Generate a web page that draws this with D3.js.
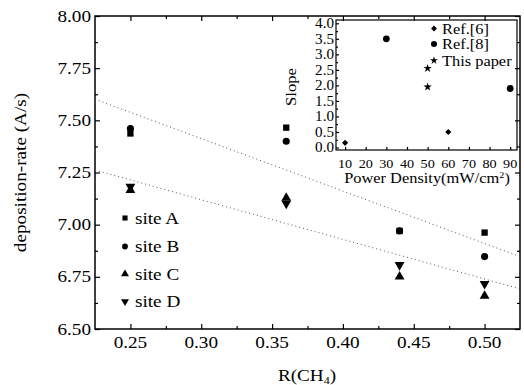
<!DOCTYPE html>
<html><head><meta charset="utf-8">
<script src="https://cdn.jsdelivr.net/npm/d3@7"></script>
<style>body{margin:0;background:#fff}text{font-family:"Liberation Serif","Times New Roman",serif;fill:#000}</style>
</head><body><svg id="c" width="524" height="385"></svg>
<script>
// ---- main chart data ----
const rValues = [0.25, 0.36, 0.44, 0.50];
const siteA = [7.437, 7.465, 6.97, 6.962];
const siteB = [7.461, 7.40, 6.97, 6.847];
const siteC = [7.165, 7.128, 6.751, 6.658];
const siteD = [7.182, 7.101, 6.807, 6.716];
const fitUpper = [[0.225, 7.601], [0.525, 6.847]];
const fitLower = [[0.225, 7.262], [0.525, 6.692]];
const xTicks = [0.25, 0.30, 0.35, 0.40, 0.45, 0.50];
const yTicks = [6.50, 6.75, 7.00, 7.25, 7.50, 7.75, 8.00];
const legendNames = ["site A", "site B", "site C", "site D"];
// ---- inset data ----
const ref6X = [10, 60], ref6Y = [0.15, 0.5];
const ref8X = [30, 90], ref8Y = [3.5, 1.9];
const thisX = [50, 50], thisY = [2.55, 1.95];
const insetXTicks = [10, 20, 30, 40, 50, 60, 70, 80, 90];
const insetYTicks = [0.0, 0.5, 1.0, 1.5, 2.0, 2.5, 3.0, 3.5, 4.0];
const insetLegend = ["Ref.[6]", "Ref.[8]", "This paper"];

const svg = d3.select("#c");
function txt(g, x, y, s, size, anchor, rot, sx) {
  const t = g.append("text").attr("font-size", size).attr("text-anchor", anchor || "start")
    .attr("transform", `translate(${x},${y})` + (rot ? ` rotate(${rot})` : "") + ` scale(${sx || 1.2},1)`);
  t.text(s);
  return t;
}

// main scales
const L = 95, R = 520, T = 16, B = 329;
const x = d3.scaleLinear([0.225, 0.525], [L, R]);
const y = d3.scaleLinear([6.5, 8.0], [B, T]);

const axisStyle = g => { g.select(".domain").remove(); g.selectAll("line").attr("stroke", "#000").attr("stroke-width", 1.2); g.selectAll("text").remove(); };
const xMin = [0.275, 0.325, 0.375, 0.425, 0.475];
const yMin = [6.625, 6.875, 7.125, 7.375, 7.625, 7.875];

svg.append("g").attr("transform", `translate(0,${B})`).call(d3.axisBottom(x).tickValues(xTicks).tickSize(-5)).call(axisStyle);
svg.append("g").attr("transform", `translate(0,${B})`).call(d3.axisBottom(x).tickValues(xMin).tickSize(-3)).call(axisStyle);
svg.append("g").attr("transform", `translate(0,${T})`).call(d3.axisTop(x).tickValues(xTicks).tickSize(-5)).call(axisStyle);
svg.append("g").attr("transform", `translate(0,${T})`).call(d3.axisTop(x).tickValues(xMin).tickSize(-3)).call(axisStyle);
svg.append("g").attr("transform", `translate(${L},0)`).call(d3.axisLeft(y).tickValues(yTicks).tickSize(-5)).call(axisStyle);
svg.append("g").attr("transform", `translate(${L},0)`).call(d3.axisLeft(y).tickValues(yMin).tickSize(-3)).call(axisStyle);
svg.append("g").attr("transform", `translate(${R},0)`).call(d3.axisRight(y).tickValues(yTicks).tickSize(-5)).call(axisStyle);
svg.append("g").attr("transform", `translate(${R},0)`).call(d3.axisRight(y).tickValues(yMin).tickSize(-3)).call(axisStyle);
svg.append("rect").attr("x", L).attr("y", T).attr("width", R - L).attr("height", B - T)
  .attr("fill", "none").attr("stroke", "#000").attr("stroke-width", 1.5);

const lab = svg.append("g");
xTicks.forEach(v => txt(lab, x(v), 348, d3.format(".2f")(v), 16, "middle"));
yTicks.forEach(v => txt(lab, 91, y(v) + 5.5, d3.format(".2f")(v), 16, "end"));
txt(lab, 26, (T + B) / 2, "deposition-rate (A/s)", 16, "middle", -90);
const xt = txt(lab, 307, 381, "", 16, "middle");
xt.append("tspan").text("R(CH");
xt.append("tspan").text("4").attr("font-size", 10).attr("dy", 3);
xt.append("tspan").text(")").attr("dy", -3);

// fit lines
const line = d3.line().x(d => x(d[0])).y(d => y(d[1]));
[fitUpper, fitLower].forEach(f => svg.append("path").attr("d", line(f)).attr("fill", "none")
  .attr("stroke", "#555").attr("stroke-width", 1).attr("stroke-dasharray", "1,3"));

// markers
const sym = [
  {type: d3.symbolSquare, size: 40, rot: 0},
  {type: d3.symbolCircle, size: 40, rot: 0},
  {type: d3.symbolTriangle, size: 42, rot: 0},
  {type: d3.symbolTriangle, size: 42, rot: 180}
];
const series = [siteB, siteA, siteC, siteD];
const symIdx = [1, 0, 2, 3];
series.forEach((s, k) => {
  const sd = sym[symIdx[k]];
  svg.append("g").selectAll("path").data(s).join("path")
    .attr("d", d3.symbol(sd.type, sd.size))
    .attr("transform", (d, i) => `translate(${x(rValues[i])},${y(d)}) rotate(${sd.rot})`)
    .attr("fill", "#000");
});
// main legend
const legY = [218, 246.5, 274, 301.5];
legendNames.forEach((n, i) => {
  const sd = sym[i];
  svg.append("path").attr("d", d3.symbol(sd.type, sd.size * 0.65))
    .attr("transform", `translate(125,${legY[i]}) rotate(${sd.rot})`).attr("fill", "#000");
  txt(svg, 135, legY[i] + 5.5, n, 16, "start");
});

// ---- inset ----
const iL = 336, iR = 517, iT = 20, iB = 150;
const xi = d3.scaleLinear([5.6, 93.3], [iL, iR]);
const yi = d3.scaleLinear([0, 4], [147.5, 23.3]);
const ig = svg.append("g");
const iMinY = [0.25, 0.75, 1.25, 1.75, 2.25, 2.75, 3.25, 3.75];
ig.append("g").attr("transform", `translate(${iL},0)`).call(d3.axisLeft(yi).tickValues(insetYTicks).tickSize(-3)).call(axisStyle);
ig.append("g").attr("transform", `translate(${iL},0)`).call(d3.axisLeft(yi).tickValues(iMinY).tickSize(-2)).call(axisStyle);
ig.append("g").attr("transform", `translate(0,${iB})`).call(d3.axisBottom(xi).tickValues(insetXTicks).tickSize(-3)).call(axisStyle);
ig.append("rect").attr("x", iL).attr("y", iT).attr("width", iR - iL).attr("height", iB - iT)
  .attr("fill", "none").attr("stroke", "#000").attr("stroke-width", 1.2);
insetYTicks.forEach(v => txt(ig, 334, yi(v) + 4.8, d3.format(".1f")(v), 14, "end", 0, 1.08));
insetXTicks.forEach(v => txt(ig, xi(v), 168, String(v), 13.5, "middle", 0, 1.05));
txt(ig, 296, 87, "Slope", 14.5, "middle", -90, 1.15);
const pt = txt(ig, 427, 183, "", 14.5, "middle", 0, 1.13);
pt.append("tspan").text("Power Density(mW/cm");
pt.append("tspan").text("2").attr("font-size", 9).attr("dy", -5);
pt.append("tspan").text(")").attr("dy", 5);

const iSym = [
  {type: d3.symbolSquare, size: 19, rot: 45, xs: ref6X, ys: ref6Y},
  {type: d3.symbolCircle, size: 36, rot: 0, xs: ref8X, ys: ref8Y},
  {type: d3.symbolStar, size: 22, rot: 0, xs: thisX, ys: thisY}
];
iSym.forEach(s => {
  ig.append("g").selectAll("path").data(s.ys).join("path")
    .attr("d", d3.symbol(s.type, s.size))
    .attr("transform", (d, i) => `translate(${xi(s.xs[i])},${yi(d)}) rotate(${s.rot})`).attr("fill", "#000");
});
const iLegY = [28.5, 44, 60.5];
insetLegend.forEach((n, i) => {
  const s = iSym[i];
  ig.append("path").attr("d", d3.symbol(s.type, s.size * (i === 1 ? 0.8 : 0.9)))
    .attr("transform", `translate(434,${iLegY[i]}) rotate(${s.rot})`).attr("fill", "#000");
  txt(ig, 442, iLegY[i] + 5, n, 14.5, "start", 0, 1.13);
});
</script></body></html>
